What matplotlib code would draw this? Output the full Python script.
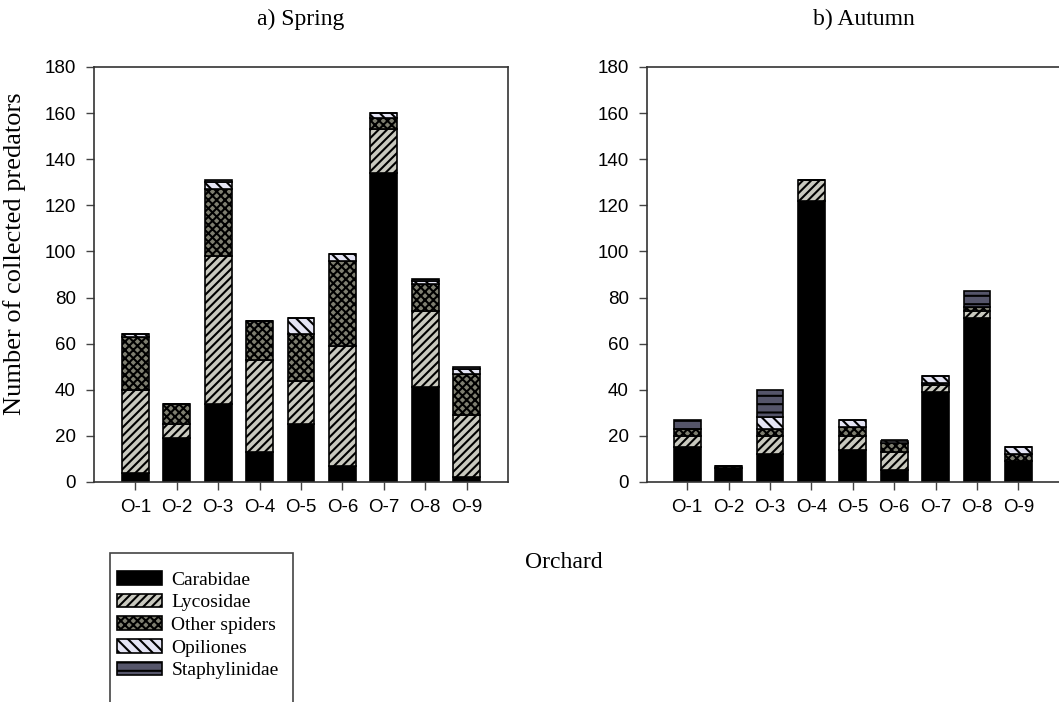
import numpy as np
import matplotlib
matplotlib.use("Agg")
import matplotlib.pyplot as plt
from matplotlib.patches import Rectangle

### DATA
orchards = ["O-1", "O-2", "O-3", "O-4", "O-5", "O-6", "O-7", "O-8", "O-9"]
groups = ["Carabidae", "Lycosidae", "Other spiders", "Opiliones", "Staphylinidae"]

spring_carabidae = [4, 19, 34, 13, 25, 7, 134, 41, 2]
spring_lycosidae = [36, 6, 64, 40, 19, 52, 19, 33, 27]
spring_other = [23, 9, 29, 17, 20, 37, 5, 12, 18]
spring_opiliones = [1, 0, 3, 0, 7, 3, 2, 1, 2]
spring_staphylinidae = [0, 0, 1, 0, 0, 0, 0, 1, 1]

autumn_carabidae = [15, 6, 12, 122, 14, 5, 39, 71, 9]
autumn_lycosidae = [5, 0, 8, 9, 6, 8, 3, 3, 0]
autumn_other = [3, 1, 3, 0, 4, 4, 1, 2, 3]
autumn_opiliones = [0, 0, 5, 0, 3, 1, 3, 0, 3]
autumn_staphylinidae = [4, 0, 12, 0, 0, 0, 0, 7, 0]

yticks = [0, 20, 40, 60, 80, 100, 120, 140, 160, 180]

### STYLES
faces = ["black", "#c9c9bf", "#7e7e70", "#e4e4f4", "#55556a"]
hatches = [None, "////", "xxxx", "\\\\\\", "--"]

plt.rcParams["hatch.linewidth"] = 1.5
serif = "Liberation Serif"
sans = "Liberation Sans"

W, H = 1059, 702
fig = plt.figure(figsize=(W / 100, H / 100), dpi=100)


def px_axes(left, top, right, bottom):
    return fig.add_axes([left / W, 1 - bottom / H, (right - left) / W, (bottom - top) / H])


def draw_panel(ax, series, xlim):
    x = np.arange(1, len(orchards) + 1)
    bottom = np.zeros(len(orchards))
    bars = []
    for vals, fc, h in zip(series, faces, hatches):
        b = ax.bar(x, vals, width=0.65, bottom=bottom, color=fc, edgecolor="black",
                   linewidth=1.2, hatch=h)
        bars.append(b)
        bottom += np.array(vals)
    ax.set_xlim(*xlim)
    ax.set_ylim(0, 180)
    ax.set_yticks(yticks)
    ax.set_xticks(x)
    ax.set_xticklabels(orchards)
    for lab in ax.get_xticklabels() + ax.get_yticklabels():
        lab.set_fontfamily(sans)
        lab.set_fontsize(13.5)
    ax.tick_params(axis="both", direction="out", length=6, width=1, color="#444444")
    ax.tick_params(axis="x", pad=6)
    ax.tick_params(axis="y", pad=7)
    for s in ax.spines.values():
        s.set_color("#333333")
        s.set_linewidth(1.2)
    return bars


ax1 = px_axes(94, 67, 508, 482)
bars = draw_panel(ax1, [spring_carabidae, spring_lycosidae, spring_other,
                        spring_opiliones, spring_staphylinidae], (0, 10))

ax2 = px_axes(647, 67, 1061, 482)
draw_panel(ax2, [autumn_carabidae, autumn_lycosidae, autumn_other,
                 autumn_opiliones, autumn_staphylinidae], (0.03, 10.03))

### TITLES AND LABELS
fig.text(301 / W, 1 - 19 / H, "a) Spring", family=serif, fontsize=17, ha="center", va="center")
fig.text(864 / W, 1 - 19 / H, "b) Autumn", family=serif, fontsize=17, ha="center", va="center")
fig.text(15 / W, 1 - 254 / H, "Number of collected predators", family=serif, fontsize=19,
         rotation=90, ha="center", va="center")
fig.text(564 / W, 1 - 562 / H, "Orchard", family=serif, fontsize=17, ha="center", va="center")

### LEGEND
fig.patches.append(Rectangle((110 / W, 1 - 715 / H), 183 / W, 162 / H,
                             transform=fig.transFigure, fill=False,
                             edgecolor="#444444", linewidth=1.2))
fig.legend([b[0] for b in bars], groups, loc="upper left",
           bbox_to_anchor=(117 / W, 1 - 571 / H), frameon=False,
           prop={"family": serif, "size": 14}, handlelength=2.3,
           handleheight=0.7, labelspacing=0.26, handletextpad=0.5,
           borderpad=0, borderaxespad=0)

fig.savefig("out.png", dpi=100)
